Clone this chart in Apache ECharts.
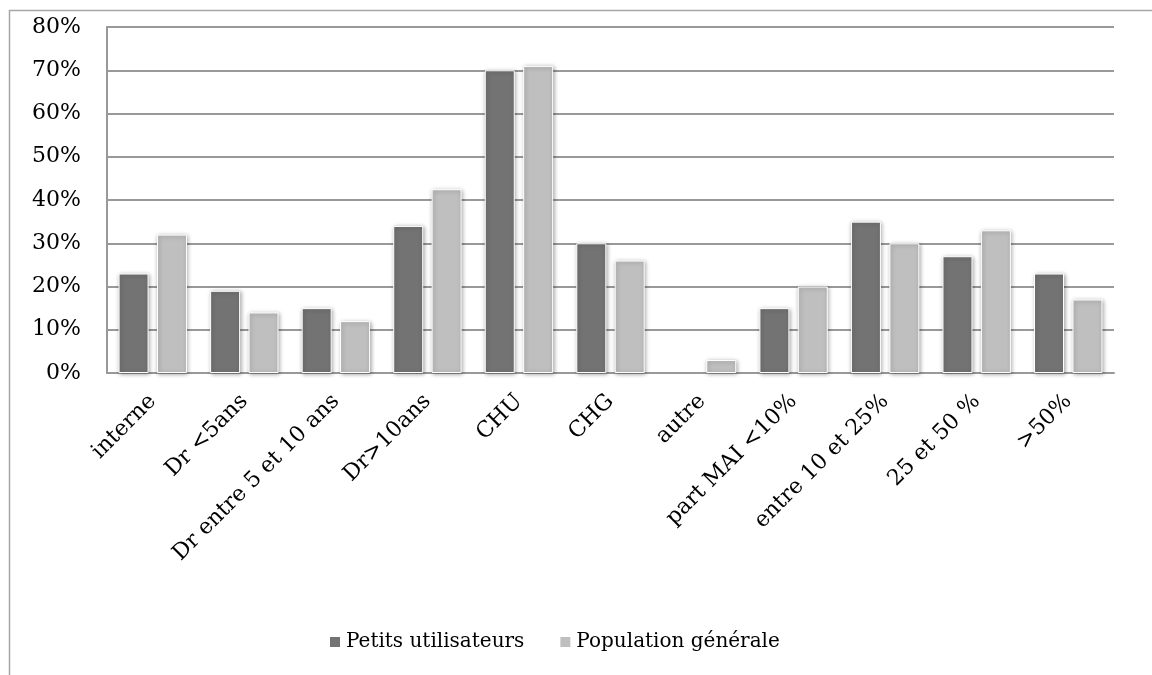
<!DOCTYPE html>
<html>
<head>
<meta charset="utf-8">
<script src="https://cdn.jsdelivr.net/npm/echarts@6/dist/echarts.min.js"></script>
<style>
html,body{margin:0;padding:0;background:#fff;}
#c{width:1152px;height:675px;}
</style>
</head>
<body>
<div id="c"></div>
<script>
const categories = ["interne","Dr <5ans","Dr entre 5 et 10 ans","Dr>10ans","CHU","CHG","autre","part MAI <10%","entre 10 et 25%","25 et 50 %",">50%"];
const petitsUtilisateurs = [23,19,15,34,70,30,0,15,35,27,23];
const populationGenerale = [32,14,12,42.5,71,26,3,20,30,33,17];
const seriesNames = ["Petits utilisateurs","Population générale"];

const font = "'DejaVu Serif', serif";
const chart = echarts.init(document.getElementById('c'), null, {renderer:'canvas'});
const barStyle = (color) => ({
  color: color,
  borderColor: '#ffffff',
  borderWidth: 1,
  shadowBlur: 4,
  shadowColor: 'rgba(0,0,0,0.35)',
  shadowOffsetX: 1,
  shadowOffsetY: 1
});
const hideZero = (arr) => arr.map(v => v === 0 ? {value: v, itemStyle: {opacity: 0}} : v);
chart.setOption({
  animation: false,
  backgroundColor: '#ffffff',
  graphic: [{
    type: 'rect',
    shape: {x: 9.5, y: 10.5, width: 1300, height: 800},
    style: {fill: 'none', stroke: '#a6a6a6', lineWidth: 1.5},
    silent: true,
    z: -1
  }],
  grid: {left: 107, right: 38, top: 27, bottom: 302, containLabel: false},
  legend: {
    data: seriesNames,
    top: 627,
    left: 323,
    icon: 'rect',
    itemWidth: 12,
    itemHeight: 12,
    itemGap: 34,
    textStyle: {fontFamily: font, fontSize: 20, color: '#000'}
  },
  xAxis: {
    type: 'category',
    data: categories,
    axisLine: {lineStyle: {color: '#999999', width: 2}},
    axisTick: {show: false},
    axisLabel: {
      rotate: 45,
      interval: 0,
      margin: 25,
      fontFamily: font,
      fontSize: 22,
      color: '#000'
    }
  },
  yAxis: {
    type: 'value',
    min: 0,
    max: 80,
    interval: 10,
    axisLine: {show: true, lineStyle: {color: '#999999', width: 2}},
    axisTick: {show: false},
    splitLine: {lineStyle: {color: '#999999', width: 2}},
    axisLabel: {
      formatter: '{value}%',
      margin: 26,
      fontFamily: font,
      fontSize: 22,
      color: '#000'
    }
  },
  series: [
    {name: seriesNames[0], type: 'bar', data: hideZero(petitsUtilisateurs), barWidth: 30, barGap: '28%', itemStyle: barStyle('#737373')},
    {name: seriesNames[1], type: 'bar', data: hideZero(populationGenerale), barWidth: 30, barGap: '28%', itemStyle: barStyle('#bfbfbf')}
  ]
});
</script>
</body>
</html>
